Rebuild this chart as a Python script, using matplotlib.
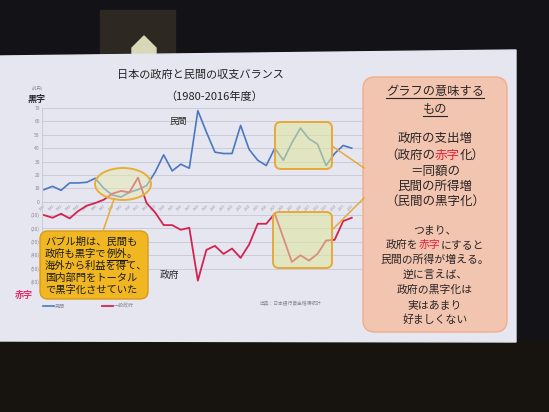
import matplotlib
matplotlib.use('Agg')
import matplotlib.pyplot as plt
from matplotlib.patches import FancyBboxPatch, Ellipse, Polygon, Rectangle

plt.rcParams['font.family'] = ['Noto Sans CJK JP', 'DejaVu Sans']

# ---------------- data ----------------
years = list(range(1980, 2017))
private = [9, 11.5, 8.5, 14, 14, 14.5, 17.5, 10, 5, 3.5, 7, 9, 12, 22, 35,
           23, 28, 25, 68, 52, 37, 36, 36, 57, 39, 31, 27, 40, 31, 44, 55,
           47, 43, 27, 36, 42, 40]
government = [-10, -12, -9, -12.5, -7, -3, -1, 1.5, 6, 8, 7, 18, -1, -8, -17.5,
              -17.5, -21, -19.5, -59, -36, -33, -39, -35, -42, -32, -16.5, -16.5,
              -9, -27, -45, -40, -44, -39, -29, -28.5, -14.5, -12]
ytick_values = [70, 60, 50, 40, 30, 20, 10, 0, -10, -20, -30, -40, -50, -60]
ytick_labels = ['70', '60', '50', '40', '30', '20', '10', '0', '(10)', '(20)',
                '(30)', '(40)', '(50)', '(60)']
year_labels = [str(y) for y in years]
series_names = ['民間', '一般政府']

W, H = 549, 412
fig = plt.figure(figsize=(W / 100, H / 100), dpi=100)

# ---------------- background (photo surroundings + slide) ----------------
bg = fig.add_axes([0, 0, 1, 1], zorder=0)
bg.set_xlim(0, W); bg.set_ylim(H, 0); bg.axis('off')
bg.add_patch(Rectangle((0, 0), W, H, color='#121217'))
bg.add_patch(Rectangle((100, 10), 75, 46, color='#2e2822'))
bg.add_patch(Polygon([(132, 48), (144, 36), (156, 48), (156, 54), (132, 54)],
                     closed=True, color='#d8d8b8'))
bg.add_patch(Rectangle((0, 340), W, 72, color='#17140f'))
bg.add_patch(Polygon([(0, 56), (516, 50), (516, 342), (0, 341)], closed=True,
                     color='#e6e6f0'))

# ---------------- chart ----------------
ax = fig.add_axes([42 / W, (H - 282) / H, 320 / W, 174 / H], zorder=1)
ax.set_facecolor('none')
for s in ['top', 'right']:
    ax.spines[s].set_visible(False)
ax.spines['bottom'].set_position(('data', 0))
ax.spines['left'].set_color('#c8c8d4')
ax.spines['left'].set_linewidth(0.6)
ax.spines['bottom'].set_color('#c8c8d4')
ax.spines['bottom'].set_linewidth(0.6)

l1, = ax.plot(years, private, color='#4a78bf', lw=1.2, zorder=3)
l2, = ax.plot(years, government, color='#d4234f', lw=1.3, zorder=3)
ax.set_xlim(1979.77, 2017.2)
ax.set_ylim(-60, 70)
ax.set_yticks(ytick_values)
ax.set_yticklabels(ytick_labels, fontsize=3.6, color='#8a8a98')
ax.set_xticks(years)
ax.set_xticklabels(year_labels, rotation=45, ha='right', va='top',
                   fontsize=2.4, color='#9a9aa8', rotation_mode='anchor')
ax.tick_params(length=0, pad=1.5)
ax.grid(axis='y', color='#c8c8d4', lw=0.6)

fig.legend([l1, l2], series_names, loc='upper left',
           bbox_to_anchor=(38 / W, (H - 299) / H), ncol=2, frameon=False,
           fontsize=3.6, handlelength=2.2, columnspacing=7.5,
           labelcolor='#8a8a98', handletextpad=0.2)

# ---------------- overlay (annotations in pixel coordinates) ----------------
ov = fig.add_axes([0, 0, 1, 1], zorder=2)
ov.set_xlim(0, W); ov.set_ylim(H, 0); ov.axis('off'); ov.set_facecolor('none')
r = fig.canvas.get_renderer()


def seg_text(x, y, segments, fontsize, ha='center', weight='normal',
             underline=None):
    texts = []
    for s, c in segments:
        t = ov.text(0, y, s, color=c, fontsize=fontsize, va='center',
                    ha='left', weight=weight)
        texts.append(t)
    widths = [t.get_window_extent(renderer=r).width for t in texts]
    total = sum(widths)
    x0 = x - total / 2 if ha == 'center' else x
    pos = x0
    for i, (t, w) in enumerate(zip(texts, widths)):
        t.set_x(pos)
        if underline is not None and i in underline:
            ov.plot([pos, pos + w], [y + fontsize * 0.78, y + fontsize * 0.78],
                    color=t.get_color(), lw=0.8)
        pos += w
    return x0, total


# titles
ov.text(200, 75, '日本の政府と民間の収支バランス', fontsize=8, ha='center',
        va='center', color='#222222')
ov.text(214, 97, '（1980-2016年度）', fontsize=8, ha='center', va='center',
        color='#222222')
ov.text(37, 88, '(兆円)', fontsize=3, ha='center', va='center', color='#8a8a98')
ov.text(37, 99, '黒字', fontsize=6.5, ha='center', va='center', color='#2a2a3a',
        weight='bold')
ov.text(24, 295, '赤字', fontsize=6.5, ha='center', va='center', color='#e0306a',
        weight='bold')
ov.text(178, 121, '民間', fontsize=6.3, ha='center', va='center', color='#222222')
ov.text(169, 275, '政府', fontsize=7, ha='center', va='center', color='#222222')
ov.text(290, 303, '出典：日本銀行資金循環統計', fontsize=3.4, ha='center',
        va='center', color='#8a8a98')

# ellipse highlight on bubble period
ov.add_patch(Ellipse((123, 184), 56, 32, facecolor='#e5e9ae', alpha=0.5,
                     edgecolor='none'))
ov.add_patch(Ellipse((123, 184), 56, 32, facecolor='none',
                     edgecolor='#e8ae3c', lw=1.4))
ov.plot([103, 114], [231, 199], color='#e8ae3c', lw=1.2)

# yellow callout
ov.add_patch(FancyBboxPatch((40, 231), 108, 68,
                            boxstyle='round,pad=0,rounding_size=8',
                            facecolor='#f0b722', edgecolor='#d99a1a', lw=1.0))
lines_y = [242, 254, 266, 278, 290]
seg_text(45, lines_y[0], [('バブル期は、民間も', '#1a1a1a')], 7.4, ha='left')
seg_text(45, lines_y[1], [('政府も黒字で', '#1a1a1a'), ('例外', '#1a1a1a'),
                          ('。', '#1a1a1a')], 7.4, ha='left', underline=[1])
seg_text(45, lines_y[2], [('海外から利益を得て、', '#1a1a1a')], 7.4, ha='left')
seg_text(45, lines_y[3], [('国内部門をトータル', '#1a1a1a')], 7.4, ha='left')
seg_text(45, lines_y[4], [('で黒字化させていた', '#1a1a1a')], 7.4, ha='left')

# green highlight boxes
for (bx, by, bw, bh) in [(275, 122, 57, 47), (273, 212, 59, 56)]:
    ov.add_patch(FancyBboxPatch((bx, by), bw, bh,
                                boxstyle='round,pad=0,rounding_size=6',
                                facecolor='#dfe69a', alpha=0.55,
                                edgecolor='none'))
    ov.add_patch(FancyBboxPatch((bx, by), bw, bh,
                                boxstyle='round,pad=0,rounding_size=6',
                                facecolor='none', edgecolor='#e6a93c', lw=1.4))
ov.plot([332, 364], [146, 168], color='#e6a93c', lw=1.1)
ov.plot([332, 364], [230, 198], color='#e6a93c', lw=1.1)

# pink explanation box
ov.add_patch(FancyBboxPatch((363, 77), 144, 255,
                            boxstyle='round,pad=0,rounding_size=12',
                            facecolor='#f2c5b1', edgecolor='#f0ad8a', lw=1.0))
cx = 435
dark = '#2a2424'
red = '#e8203c'
seg_text(cx, 91, [('グラフの意味する', dark)], 8.8, underline=[0])
seg_text(cx, 109, [('もの', dark)], 8.8, underline=[0])
seg_text(cx, 138, [('政府の支出増', dark)], 9.0)
seg_text(cx, 155, [('（政府の', dark), ('赤字', red), ('化）', dark)], 9.0)
seg_text(cx, 171, [('＝同額の', dark)], 9.0)
seg_text(cx, 186, [('民間の所得増', dark)], 9.0)
seg_text(cx, 201, [('（民間の黒字化）', dark)], 9.0)
seg_text(cx, 230, [('つまり、', dark)], 7.8)
seg_text(cx, 245, [('政府を', dark), ('赤字', red), ('にすると', dark)], 7.8)
seg_text(cx, 260, [('民間の所得が増える。', dark)], 7.8)
seg_text(cx, 275, [('逆に言えば、', dark)], 7.8)
seg_text(cx, 290, [('政府の黒字化は', dark)], 7.8)
seg_text(cx, 305, [('実はあまり', dark)], 7.8)
seg_text(cx, 320, [('好ましくない', dark)], 7.8)

fig.savefig('out.png', dpi=100)
